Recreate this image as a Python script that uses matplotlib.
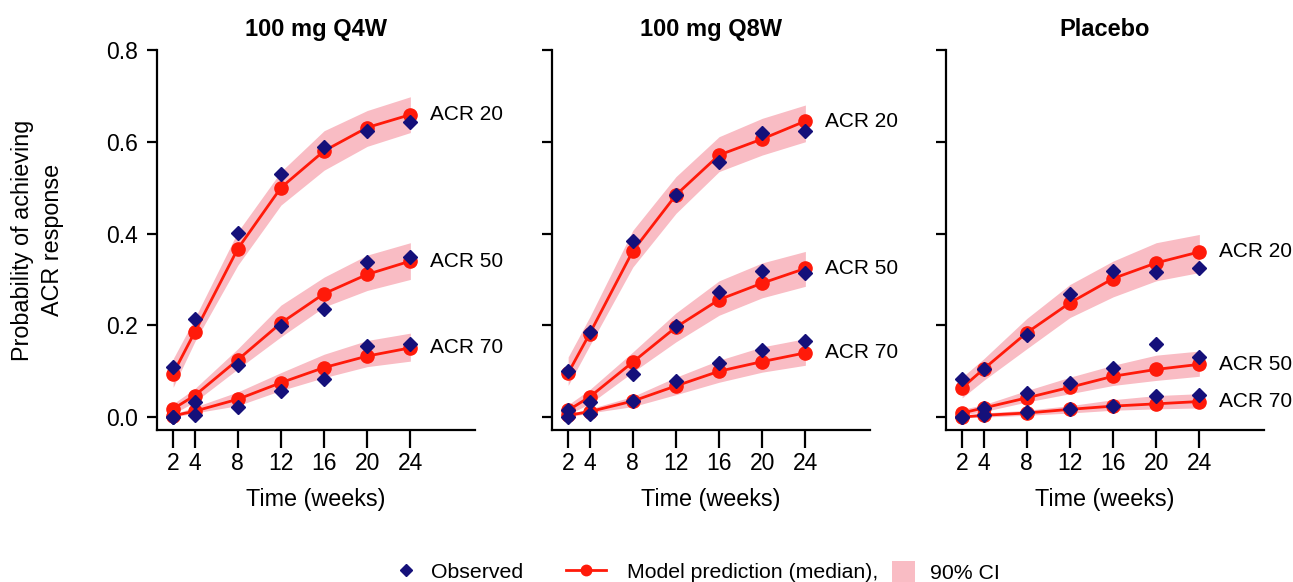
import matplotlib
matplotlib.use("Agg")
import matplotlib.pyplot as plt
from matplotlib.lines import Line2D
from matplotlib.patches import Patch

plt.rcParams['font.family'] = ['Liberation Sans', 'DejaVu Sans']

weeks = [2, 4, 8, 12, 16, 20, 24]
panels = ["100 mg Q4W", "100 mg Q8W", "Placebo"]
endpoints = ["ACR 20", "ACR 50", "ACR 70"]

# observed proportions, per panel, per endpoint
obs_q4w = [
    [0.109, 0.214, 0.401, 0.529, 0.589, 0.624, 0.643],
    [0.000, 0.033, 0.113, 0.199, 0.236, 0.337, 0.348],
    [0.000, 0.005, 0.023, 0.057, 0.084, 0.156, 0.160],
]
obs_q8w = [
    [0.100, 0.185, 0.384, 0.484, 0.555, 0.620, 0.623],
    [0.016, 0.033, 0.095, 0.198, 0.273, 0.319, 0.315],
    [0.000, 0.006, 0.036, 0.078, 0.119, 0.147, 0.166],
]
obs_pbo = [
    [0.082, 0.105, 0.178, 0.268, 0.319, 0.316, 0.325],
    [0.000, 0.020, 0.053, 0.075, 0.108, 0.160, 0.132],
    [0.000, 0.004, 0.011, 0.018, 0.024, 0.046, 0.049],
]

# model median
med_q4w = [
    [0.095, 0.185, 0.367, 0.500, 0.580, 0.631, 0.659],
    [0.018, 0.047, 0.125, 0.205, 0.269, 0.311, 0.340],
    [0.003, 0.013, 0.039, 0.075, 0.108, 0.133, 0.151],
]
med_q8w = [
    [0.096, 0.182, 0.362, 0.484, 0.571, 0.606, 0.645],
    [0.015, 0.044, 0.120, 0.196, 0.256, 0.292, 0.324],
    [0.004, 0.012, 0.035, 0.068, 0.100, 0.121, 0.140],
]
med_pbo = [
    [0.064, 0.105, 0.184, 0.249, 0.302, 0.336, 0.360],
    [0.009, 0.020, 0.042, 0.065, 0.089, 0.104, 0.115],
    [0.000, 0.004, 0.009, 0.017, 0.024, 0.029, 0.034],
]

# 90% CI lower / upper
lo_q4w = [
    [0.065, 0.164, 0.331, 0.462, 0.538, 0.590, 0.620],
    [0.007, 0.033, 0.105, 0.175, 0.240, 0.276, 0.300],
    [0.000, 0.009, 0.025, 0.058, 0.086, 0.110, 0.122],
]
hi_q4w = [
    [0.127, 0.215, 0.404, 0.535, 0.624, 0.668, 0.698],
    [0.029, 0.062, 0.149, 0.244, 0.305, 0.353, 0.380],
    [0.006, 0.022, 0.055, 0.097, 0.137, 0.167, 0.183],
]
lo_q8w = [
    [0.069, 0.156, 0.327, 0.444, 0.535, 0.571, 0.600],
    [0.006, 0.029, 0.098, 0.164, 0.222, 0.260, 0.285],
    [0.000, 0.009, 0.023, 0.049, 0.076, 0.098, 0.113],
]
hi_q8w = [
    [0.131, 0.218, 0.407, 0.524, 0.611, 0.651, 0.680],
    [0.027, 0.060, 0.142, 0.227, 0.297, 0.336, 0.361],
    [0.007, 0.018, 0.045, 0.087, 0.124, 0.153, 0.171],
]
lo_pbo = [
    [0.042, 0.080, 0.149, 0.217, 0.262, 0.297, 0.315],
    [0.004, 0.012, 0.033, 0.051, 0.069, 0.080, 0.089],
    [0.000, 0.000, 0.004, 0.009, 0.015, 0.018, 0.020],
]
hi_pbo = [
    [0.087, 0.127, 0.215, 0.289, 0.340, 0.380, 0.398],
    [0.017, 0.027, 0.058, 0.087, 0.113, 0.135, 0.144],
    [0.004, 0.009, 0.015, 0.025, 0.038, 0.047, 0.051],
]

observed = [obs_q4w, obs_q8w, obs_pbo]
median = [med_q4w, med_q8w, med_pbo]
ci_lo = [lo_q4w, lo_q8w, lo_pbo]
ci_hi = [hi_q4w, hi_q8w, hi_pbo]

red = "#ff1a0a"
navy = "#15107a"
pink = "#f9bcc4"

fig = plt.figure(figsize=(12.93, 5.82), dpi=100)
lefts = [0.1214, 0.4269, 0.7316]

for p in range(3):
    ax = fig.add_axes([lefts[p], 0.2612, 0.246, 0.653])
    for k in range(3):
        ax.fill_between(weeks, ci_lo[p][k], ci_hi[p][k], color=pink, lw=0, zorder=1)
        ax.plot(weeks, median[p][k], color=red, lw=2, marker="o", ms=9.5, zorder=2)
        ax.plot(weeks, observed[p][k], ls="none", marker="D", ms=7.3, color=navy, zorder=3)
        ax.text(25.8, median[p][k][-1], endpoints[k], fontsize=15, va="center", ha="left")
    ax.set_xlim(0.5, 30)
    ax.set_ylim(-0.028, 0.8)
    ax.set_xticks(weeks)
    ax.set_yticks([0.0, 0.2, 0.4, 0.6, 0.8])
    ax.spines["top"].set_visible(False)
    ax.spines["right"].set_visible(False)
    for s in ["left", "bottom"]:
        ax.spines[s].set_linewidth(1.6)
    ax.tick_params(direction="out", width=1.6, labelsize=16.5)
    ax.tick_params(axis="x", length=13, pad=3)
    ax.tick_params(axis="y", length=7, pad=7)
    ax.set_xlabel("Time (weeks)", fontsize=16.8, labelpad=9)
    ax.set_title(panels[p], fontsize=17, fontweight="bold", pad=10)
    if p == 0:
        ax.set_ylabel("Probability of achieving\nACR response", fontsize=16.8, labelpad=30,
                      linespacing=1.4)
    else:
        ax.set_yticklabels([])

# legend entries laid out one by one along the bottom
entries = [
    (Line2D([], [], ls="none", marker="D", ms=6, color=navy), "Observed", 0.3035, 1.3, 0.5, 0.7),
    (Line2D([], [], color=red, lw=2, marker="o", ms=7.5), "Model prediction (median),", 0.4377, 1.87, 1.0, 0.7),
    (Patch(facecolor=pink, edgecolor="none"), "90% CI", 0.6899, 1.1, 0.67, 1.25),
]
for h, lab, x0, hl, tp, hh in entries:
    fig.legend([h], [lab], loc="center left", bbox_to_anchor=(x0, 0.017), frameon=False,
               fontsize=15.3, handlelength=hl, handletextpad=tp, handleheight=hh,
               borderpad=0, borderaxespad=0)

fig.savefig("out.png", dpi=100)
